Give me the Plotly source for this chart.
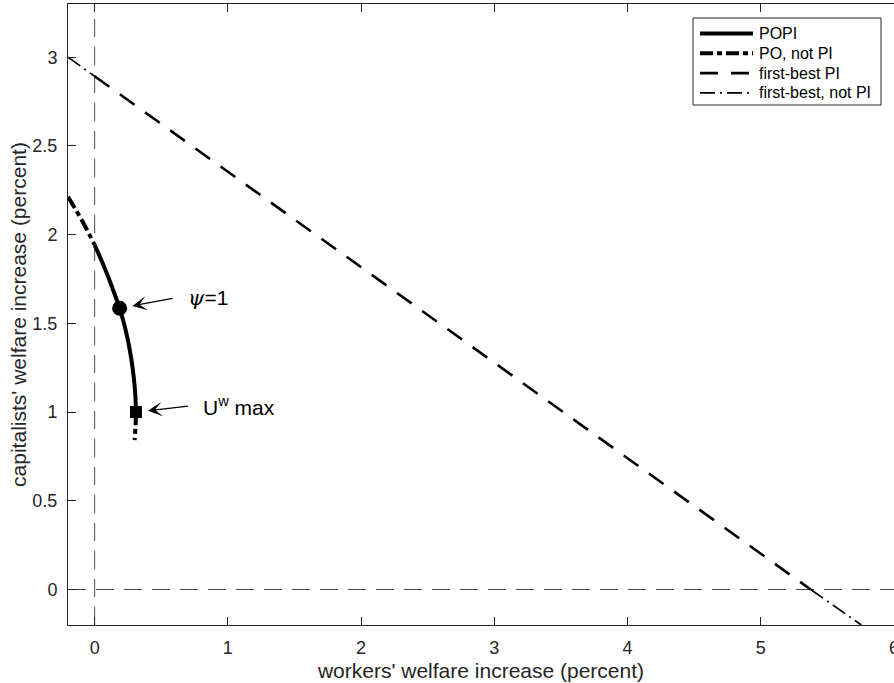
import plotly.graph_objects as go

# ---------------- data ----------------
popi_w = [0.0, 0.054, 0.108, 0.157, 0.1875, 0.220, 0.251, 0.275, 0.293, 0.305, 0.31]
popi_c = [1.942, 1.85, 1.75, 1.65, 1.585, 1.5, 1.4, 1.3, 1.2, 1.1, 1.0]

po_left_w = [-0.2, -0.088, 0.0]
po_left_c = [2.214, 2.07, 1.942]
po_tail_w = [0.31, 0.307, 0.30]
po_tail_c = [1.0, 0.92, 0.842]

fb_pi_w = [0.0, 5.375]
fb_pi_c = [2.893, 0.0]

fb_npi_w = [-0.2, 0.0, None, 5.375, 5.755]
fb_npi_c = [3.0, 2.893, None, 0.0, -0.2]

psi1_w = [0.1875]
psi1_c = [1.585]
uwmax_w = [0.31]
uwmax_c = [1.0]

legend_labels = ["POPI", "PO, not PI", "first-best PI", "first-best, not PI"]
x_ticks = [0, 1, 2, 3, 4, 5, 6]
y_ticks = [0, 0.5, 1, 1.5, 2, 2.5, 3]
x_range = [-0.2, 6.0]
y_range = [-0.2, 3.3]

# ---------------- styles ----------------
FONT = "Liberation Sans, Arial, Helvetica, sans-serif"
AX = "#262626"
W, H = 894, 683
ML, MR, MT, MB = 68, 0, 4, 58

st_popi = dict(color="black", width=4)
st_po = dict(color="black", width=4, dash="13px,4px,5px,4px")
st_fbpi = dict(color="black", width=2.6, dash="18px,13px")
st_fbnpi = dict(color="black", width=1.7, dash="15px,5px,2px,5px")
styles = [st_popi, st_po, st_fbpi, st_fbnpi]

fig = go.Figure()
fig.add_trace(go.Scatter(x=fb_npi_w, y=fb_npi_c, mode="lines", line=st_fbnpi,
                         name=legend_labels[3], showlegend=False))
fig.add_trace(go.Scatter(x=fb_pi_w, y=fb_pi_c, mode="lines", line=st_fbpi,
                         name=legend_labels[2], showlegend=False))
fig.add_trace(go.Scatter(x=po_left_w, y=po_left_c, mode="lines",
                         line=dict(**st_po, shape="spline"),
                         name=legend_labels[1], showlegend=False))
fig.add_trace(go.Scatter(x=po_tail_w, y=po_tail_c, mode="lines",
                         line=dict(**st_po, shape="spline"),
                         name=legend_labels[1], showlegend=False))
fig.add_trace(go.Scatter(x=popi_w, y=popi_c, mode="lines",
                         line=dict(**st_popi, shape="spline"),
                         name=legend_labels[0], showlegend=False))
fig.add_trace(go.Scatter(x=psi1_w, y=psi1_c, mode="markers",
                         marker=dict(symbol="circle", size=15, color="black"),
                         showlegend=False))
fig.add_trace(go.Scatter(x=uwmax_w, y=uwmax_c, mode="markers",
                         marker=dict(symbol="square", size=12, color="black"),
                         showlegend=False))

# zero reference lines
zl = dict(color="#4a4a4a", width=1, dash="18px,10px")
fig.add_shape(type="line", xref="x", yref="paper", x0=0, x1=0, y0=0, y1=1,
              line=zl, layer="below")
fig.add_shape(type="line", xref="paper", yref="y", x0=0, x1=1, y0=0, y1=0,
              line=zl, layer="below")

# ---------------- manual legend (MATLAB-style box) ----------------
PW = W - ML - MR
PH = H - MT - MB


def px(xp):
    return (xp - ML) / PW


def py(yp):
    return (H - MB - yp) / PH


fig.add_shape(type="rect", xref="paper", yref="paper",
              x0=px(693), x1=px(881), y0=py(105), y1=py(18),
              line=dict(color=AX, width=1), fillcolor="white", layer="above")
for i, (lab, st) in enumerate(zip(legend_labels, styles)):
    yy = 33.5 + i * 19.8
    fig.add_shape(type="line", xref="paper", yref="paper",
                  x0=px(700), x1=px(753), y0=py(yy), y1=py(yy),
                  line=st, layer="above")
    fig.add_annotation(xref="paper", yref="paper", x=px(757), y=py(yy),
                       text=lab, showarrow=False, xanchor="left", yanchor="middle",
                       font=dict(family=FONT, size=16, color="black"))

# ---------------- annotations with arrows ----------------
arrow = dict(showarrow=True, arrowhead=3, arrowsize=2.0, arrowwidth=1.2,
             arrowcolor="black", axref="pixel", ayref="pixel",
             xanchor="left", yanchor="middle", borderpad=14,
             font=dict(family=FONT, size=21, color="black"))
fig.add_annotation(x=psi1_w[0], y=psi1_c[0], ax=53, ay=-10, standoff=13,
                   text="<span style='font-family:DejaVu Serif;font-style:italic'>ψ</span>=1",
                   **arrow)
fig.add_annotation(x=uwmax_w[0], y=uwmax_c[0], ax=52, ay=-6, standoff=12,
                   text="U<sup>w</sup> max", **arrow)

fig.update_layout(
    width=W, height=H,
    margin=dict(l=ML, r=MR, t=MT, b=MB, pad=0),
    paper_bgcolor="white", plot_bgcolor="white",
    font=dict(family=FONT, color=AX),
    showlegend=False,
    xaxis=dict(range=x_range, tickvals=x_ticks, showgrid=False, zeroline=False,
               showline=True, linecolor=AX, linewidth=1, mirror="ticks",
               ticks="inside", ticklen=8, tickcolor=AX, tickwidth=1,
               ticklabelstandoff=6, automargin=False, ticklabeloverflow="allow",
               tickfont=dict(family=FONT, size=18, color=AX),
               title=dict(text="workers' welfare increase (percent)", standoff=6,
                          font=dict(family=FONT, size=21, color=AX))),
    yaxis=dict(range=y_range, tickvals=y_ticks, showgrid=False, zeroline=False,
               showline=True, linecolor=AX, linewidth=1, mirror=False,
               ticks="inside", ticklen=8, tickcolor=AX, tickwidth=1,
               ticklabelstandoff=6, automargin=False,
               tickfont=dict(family=FONT, size=18, color=AX),
               title=dict(text="capitalists' welfare increase (percent)", standoff=0,
                          font=dict(family=FONT, size=21, color=AX))),
    yaxis2=dict(range=y_range, tickvals=y_ticks, overlaying="y", side="right",
                showgrid=False, zeroline=False, showline=False,
                showticklabels=False, ticks="inside", ticklen=8,
                tickcolor=AX, tickwidth=1, automargin=False),
)

fig.write_html(
    "out.html",
    config={"displayModeBar": False},
    post_script="document.body.style.margin='0';document.body.style.overflow='hidden';",
)
